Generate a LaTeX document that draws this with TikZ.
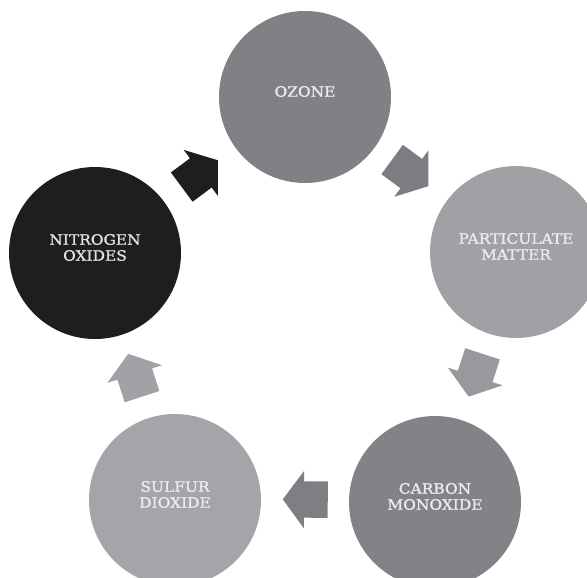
\documentclass[tikz,border=0pt]{standalone}
\usepackage{fontspec}
\usepackage{graphicx}
\newfontfamily\labfont{DejaVu Serif}[FakeStretch=1.08,FakeBold=1.2]
\usetikzlibrary{shapes.arrows,calc}
\definecolor{ozonec}{RGB}{128,129,132}
\definecolor{pmc}{RGB}{160,161,164}
\definecolor{coc}{RGB}{130,131,134}
\definecolor{soc}{RGB}{164,165,168}
\definecolor{noc}{RGB}{31,29,30}
\definecolor{arrA}{RGB}{30,30,30}
\definecolor{arrB}{RGB}{124,125,128}
\definecolor{arrC}{RGB}{152,153,156}
\definecolor{arrD}{RGB}{126,127,130}
\definecolor{arrE}{RGB}{161,162,165}
\definecolor{labc}{RGB}{236,236,236}
\definecolor{labd}{RGB}{225,225,225}
\newcommand\circtext[1]{\raisebox{3.5pt}[\height][\depth]{\begin{tabular}{@{}c@{}}#1\end{tabular}}}
\newcommand\flowarrow[4]{%
  \path let \p1=($(#2)-(#1)$), \n1={atan2(\y1,\x1)} in
    node[blockarr, fill=#3, rotate=\n1] (#4) at ($(#1)!0.5!(#2)!7pt!(#1)+(0,-1.5)$) {};}
\tikzset{
  pollutant/.style={circle, minimum size=172pt, inner sep=0pt, draw=none,
    text=labc, font=\labfont\fontsize{14.3}{16}\selectfont},
  blockarr/.style={single arrow, minimum height=45pt, minimum width=57pt,
    single arrow head extend=10.5pt, single arrow tip angle=107,
    inner xsep=0pt, inner ysep=18pt, draw=none}
}
\begin{document}
\begin{tikzpicture}[x=1pt,y=-1pt]
\useasboundingbox (0,0) rectangle (587,578);
\fill[white] (0,0) rectangle (587,578);
\clip (0,0) rectangle (587,578);
\node[pollutant, fill=ozonec] (oz) at (305,97) {\circtext{OZONE}};
\node[pollutant, fill=pmc] (pm) at (516,252) {\circtext{PARTICULATE\\MATTER}};
\node[pollutant, fill=coc] (co) at (435,502) {\circtext{CARBON\\MONOXIDE}};
\node[pollutant, fill=soc] (so) at (175,500) {\circtext{SULFUR\\DIOXIDE}};
\node[pollutant, fill=noc, text=labd] (no) at (95,253) {\circtext{NITROGEN\\OXIDES}};
\flowarrow{no}{oz}{arrA}{a1}
\flowarrow{oz}{pm}{arrB}{a2}
\flowarrow{pm}{co}{arrC}{a3}
\flowarrow{co}{so}{arrD}{a4}
\flowarrow{so}{no}{arrE}{a5}
\end{tikzpicture}
\end{document}
